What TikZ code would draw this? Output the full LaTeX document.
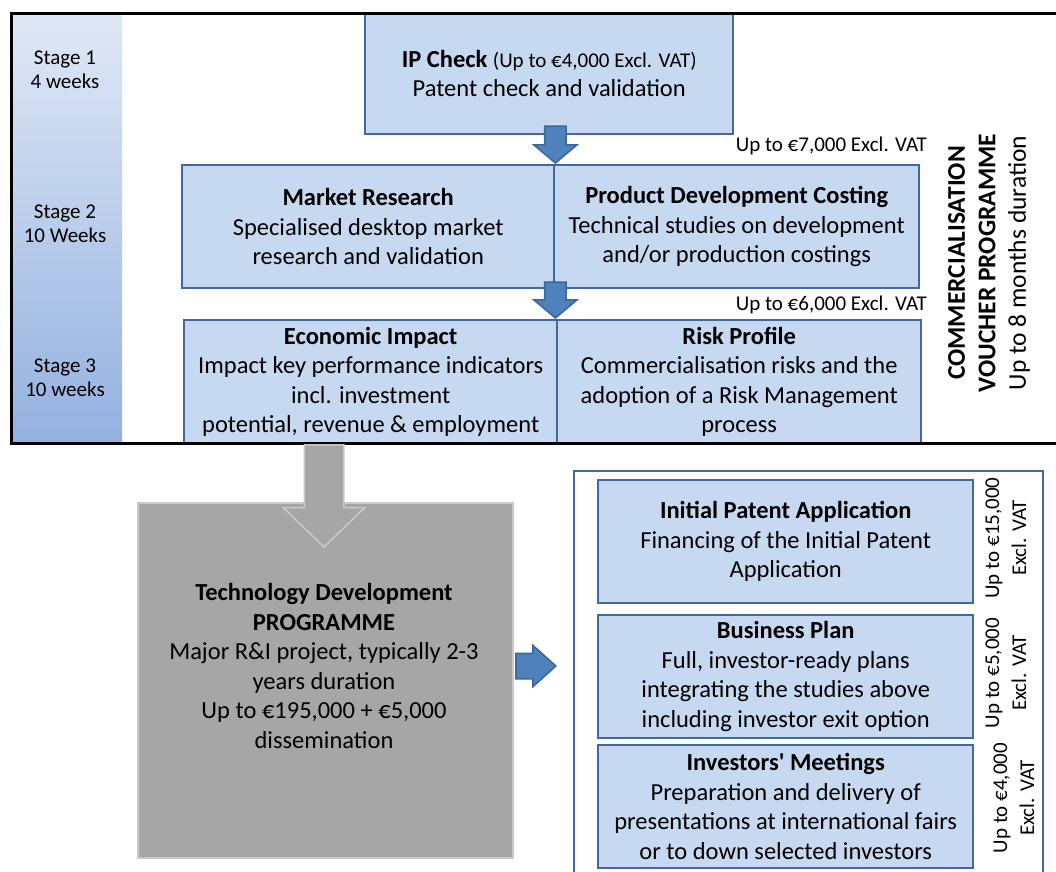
\documentclass[tikz,border=0pt]{standalone}
\usepackage{fontspec}
\setmainfont{Carlito}[Ligatures=TeXOff]
\usepackage{xcolor}
\usetikzlibrary{positioning,shapes.arrows}
\definecolor{boxfill}{HTML}{C6D9F1}
\definecolor{boxline}{HTML}{41699D}
\definecolor{arrowfill}{HTML}{4F81BD}
\definecolor{arrowline}{HTML}{3B6699}
\definecolor{greyfill}{HTML}{A6A6A6}
\definecolor{greyline}{HTML}{C9C9C9}
\definecolor{stagetop}{HTML}{E0E8F6}
\definecolor{stagebot}{HTML}{93B1E0}
\newcommand{\costfont}{\fontsize{21}{24.5}\selectfont}
\newcommand{\boxfont}{\fontsize{24.5}{29.5}\selectfont}

\begin{document}
\begin{tikzpicture}[x=1pt,y=-1pt,
	stagebox/.style={
		draw=boxline, fill=boxfill,
		line width=2.4pt,
		anchor=north west,
		align=center, inner sep=0pt,
		font=\boxfont
	},
	stagelabel/.style={
		align=center, inner sep=0pt,
		font=\costfont
	},
	downarrow/.style={
		single arrow, shape border rotate=270,
		draw=arrowline, fill=arrowfill, line width=1.5pt,
		inner xsep=10pt, inner ysep=0pt,
		single arrow head extend=11pt,
		single arrow tip angle=100,
		minimum height=37pt, anchor=tip
	},
	greyarrow/.style={
		single arrow, shape border rotate=270,
		draw=greyline, fill=greyfill, line width=1.5pt,
		inner xsep=19pt, inner ysep=0pt,
		single arrow head extend=21pt,
		single arrow tip angle=92,
		minimum height=102pt, anchor=tip
	},
	sidearrow/.style={
		single arrow,
		draw=arrowline, fill=arrowfill, line width=1.5pt,
		inner xsep=0pt, inner ysep=12pt,
		single arrow head extend=8pt,
		single arrow tip angle=84,
		minimum height=40pt, anchor=tip
	}
	]
	\useasboundingbox (0,0) rectangle (1056,871);
	% voucher programme, stages 1-3
	\node[anchor=north west, inner sep=0pt, top color=stagetop, bottom color=stagebot,
		minimum width=110pt, minimum height=428pt] (stages) at (12,13) {};
	\node[stagelabel] (s1) at (65,70) {Stage 1\\4 weeks};
	\node[stagelabel] (s2) at (65,224) {Stage 2\\10 Weeks};
	\node[stagelabel] (s3) at (65,378) {Stage 3\\10 weeks};
	
	\node[stagebox, minimum width=368pt, minimum height=121pt] (ipcheck) at (364,12)
	{\textbf{IP Check} {\costfont(Up to €4,000 Excl. VAT)}\\Patent check and validation};
	\node[stagebox, minimum width=372pt, minimum height=123pt] (market) at (181,164)
	{\textbf{Market Research}\\Specialised desktop market\\research and validation};
	\node[stagebox, minimum width=365pt, minimum height=123pt] (costing) at (553,164)
	{\textbf{Product Development Costing}\\Technical studies on development\\and/or production costings};
	\node[stagebox, minimum width=373pt, minimum height=123pt] (impact) at (183,319)
	{\textbf{Economic Impact}\\Impact key performance indicators\\incl. investment\\potential, revenue \& employment};
	\node[stagebox, minimum width=364pt, minimum height=123pt] (risk) at (556,319)
	{\textbf{Risk Profile}\\Commercialisation risks and the\\adoption of a Risk Management\\process};
	
	\node[downarrow] (a1) at (market.north east) {};
	\node[downarrow, minimum height=36pt] (a2) at ([xshift=-3pt]impact.north east) {};
	
	\node[stagelabel, anchor=east] (c2) at (927,146) {Up to €7,000 Excl. VAT};
	\node[stagelabel, anchor=east] (c3) at (927,305) {Up to €6,000 Excl. VAT};
	
	\node[rotate=90, align=center, inner sep=0pt, font=\fontsize{25.5}{30.5}\selectfont] (title) at (989,263)
	{\textbf{COMMERCIALISATION}\\\textbf{VOUCHER PROGRAMME}\\Up to 8 months duration};
	
	\node[draw, line width=3pt, anchor=north west, inner sep=0pt,
		minimum width=1060pt, minimum height=430pt] (voucher) at (10,12) {};
	
	% technology development programme
	\node[draw=greyline, fill=greyfill, line width=2pt, anchor=north west, inner sep=0pt,
		minimum width=375pt, minimum height=355pt] (techdev) at (137,502) {};
	\node[greyarrow] (a3) at (324,548) {};
	\node[align=center, inner sep=0pt, font=\boxfont] (techtext) at (324,666)
	{\textbf{Technology Development}\\\textbf{PROGRAMME}\\Major R\&I project, typically 2-3\\years duration\\Up to €195,000 + €5,000\\dissemination};
	
	% follow-up support
	\node[draw=boxline, line width=2pt, anchor=north west, inner sep=0pt,
		minimum width=469pt, minimum height=420pt] (support) at (573,470) {};
	\node[sidearrow] (a4) at ([xshift=-16pt]support.west |- techtext) {};
	
	\node[stagebox, minimum width=375pt, minimum height=123pt] (patent) at (597,479)
	{\textbf{Initial Patent Application}\\Financing of the Initial Patent\\Application};
	\node[stagebox, minimum width=375pt, minimum height=123pt] (plan) at (597,614)
	{\textbf{Business Plan}\\Full, investor-ready plans\\integrating the studies above\\including investor exit option};
	\node[stagebox, minimum width=375pt, minimum height=123pt] (meetings) at (597,744)
	{\textbf{Investors' Meetings}\\Preparation and delivery of\\presentations at international fairs\\or to down selected investors};
	
	\node[stagelabel, rotate=90, font=\fontsize{21}{27}\selectfont] (p1) at (1006,538) {Up to €15,000\\Excl. VAT};
	\node[stagelabel, rotate=90, font=\fontsize{21}{27}\selectfont] (p2) at (1006,673) {Up to €5,000\\Excl. VAT};
	\node[stagelabel, rotate=90, font=\fontsize{21}{27}\selectfont] (p3) at (1014,798) {Up to €4,000\\Excl. VAT};
\end{tikzpicture}
\end{document}
